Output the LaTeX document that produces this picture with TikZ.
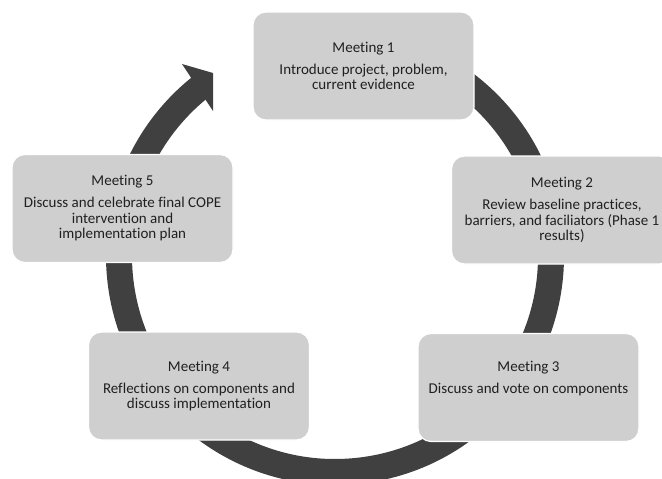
\documentclass[tikz,border=0pt]{standalone}
\usepackage{fontspec}
\setmainfont[Ligatures=NoCommon]{Carlito}
\definecolor{boxfill}{HTML}{D0CFD0}
\definecolor{ringc}{HTML}{404040}
\definecolor{txt}{HTML}{202020}
\begin{document}
\begin{tikzpicture}[x=1pt,y=-1pt,
  box/.style={draw=white, line width=1.2pt, fill=boxfill, rounded corners=13pt,
    minimum width=221pt, minimum height=108pt, inner sep=0pt},
  lbl/.style={text=txt, align=center, font=\fontsize{15}{15.5}\selectfont, inner sep=0pt},
  ring/.style={draw=ringc, line width=26pt},
  head/.style={fill=ringc}]
\useasboundingbox (0,0) rectangle (662,479);
\clip (0,0) rectangle (662,479);
\coordinate (c) at (335,256);
\coordinate (hb1) at (182,64);
\coordinate (ht) at (213,73);
\coordinate (hb2) at (213,111);
\draw[ring] ([shift={(-95:216)}]c) arc[start angle=-95, end angle=231.5, radius=216];
\fill[head] (hb1) -- (ht) -- (hb2) -- cycle;

\node[box] (b1) at (363.5,66) {};
\node[lbl] (t1) at (b1.center) {Meeting 1\\[6.5pt]Introduce project, problem,\\current evidence};

\node[box] (b2) at (562,210) {};
\node[lbl] (t2) at (b2.center) {Meeting 2\\[6.5pt]Review baseline practices,\\barriers, and faciliators (Phase 1\\results)};

\node[box] (b3) at (528.5,387.5) {};
\node[lbl] (t3) at (b3.center) {Meeting 3\\[6.5pt]Discuss and vote on components\\\strut};

\node[box] (b4) at (199,386) {};
\node[lbl] (t4) at (b4.center) {Meeting 4\\[6.5pt]Reflections on components and\\discuss implementation};

\node[box] (b5) at (122.5,208.5) {};
\node[lbl] (t5) at (b5.center) {Meeting 5\\[6.5pt]Discuss and celebrate final COPE\\intervention and\\implementation plan};
\end{tikzpicture}
\end{document}
